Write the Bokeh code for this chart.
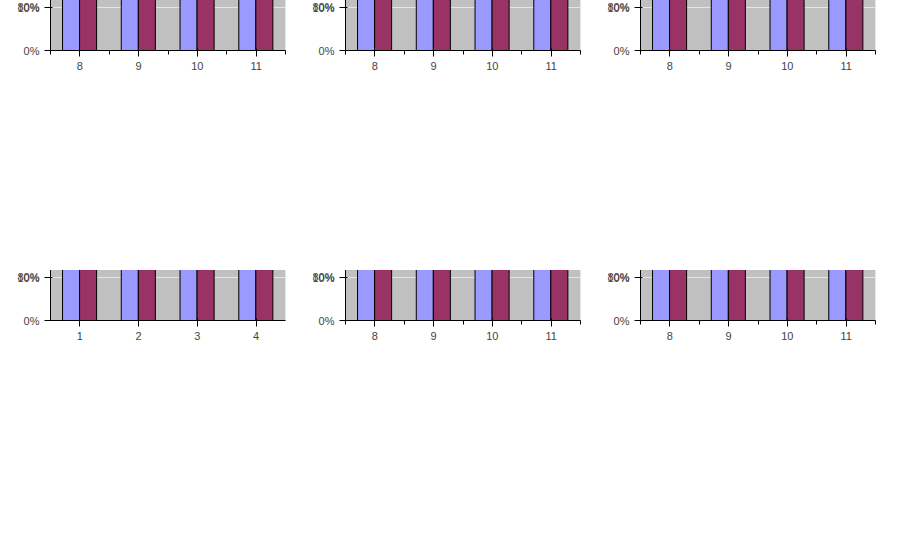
from bokeh.plotting import figure
from bokeh.models import (ColumnDataSource, FixedTicker, Legend, LegendItem, NumeralTickFormatter, Div)
from bokeh.layouts import gridplot
from bokeh.transform import dodge
from bokeh.core.properties import value
from bokeh.embed import file_html
from bokeh.resources import INLINE

categories = ["8", "9", "10", "11"]
tdah = [0.42, 0.36, 0.343, 0.19]
control = [0.138, 0.157, 0.136, 0.156]
series_names = ["Grupo TDAH", "Grupo Control"]
y_ticks = [0.0, 0.1, 0.2, 0.3, 0.4, 0.5, 0.6, 0.7, 0.8]
xs = [i + 1 for i in range(len(categories))]


def build(name, legend_on=True, standoff=True, minor=True, texts=True, borders=True):
    src = ColumnDataSource(dict(x=xs, tdah=tdah, control=control,
                                tdah_lbl=[f"{round(v*100)}%" for v in tdah],
                                control_lbl=[f"{round(v*100)}%" for v in control]))
    kw = dict(min_border_left=50, min_border_right=10, min_border_top=50, min_border_bottom=90) if borders else {}
    p = figure(width=295, height=270, x_range=(0.5, 4.5), y_range=(0, 0.8), output_backend="svg",
               toolbar_location=None, title=name, **kw)
    p.background_fill_color = "#C0C0C0"
    if standoff:
        p.title.standoff = 20
        p.title.offset = -10
        p.title.align = "center"
    if minor:
        p.xaxis.ticker = FixedTicker(ticks=xs, minor_ticks=[x - 0.5 for x in xs] + [4.5])
        p.xaxis.major_label_overrides = {x: c for x, c in zip(xs, categories)}
    else:
        p.xaxis.ticker = FixedTicker(ticks=xs)
    p.yaxis.ticker = FixedTicker(ticks=y_ticks)
    p.yaxis.formatter = NumeralTickFormatter(format="0%")
    r1 = p.vbar(x=dodge("x", -0.15), top="tdah", width=0.29, source=src, fill_color="#9999FF", line_color="black")
    r2 = p.vbar(x=dodge("x", 0.14), top="control", width=0.29, source=src, fill_color="#993366", line_color="black")
    if texts:
        p.text(x=dodge("x", -0.15), y="tdah", text="tdah_lbl", source=src, y_offset=-10,
               text_align="center", text_baseline="middle", text_font=value("Liberation Sans"), text_font_size="11px")
    if legend_on:
        lg = Legend(items=[LegendItem(label=series_names[0], renderers=[r1]),
                           LegendItem(label=series_names[1], renderers=[r2])],
                    orientation="horizontal", location="center")
        lg.margin = 10
        p.add_layout(lg, "below")
    return p


figs = [build("A control"), build("B nolegend", legend_on=False), build("C nostandoff", standoff=False),
        build("D nominor", minor=False), build("E notext", texts=False), build("F noborders", borders=False)]
g = gridplot([figs[:3], figs[3:]], toolbar_location=None)
open("out.html", "w").write(file_html(g, INLINE))
